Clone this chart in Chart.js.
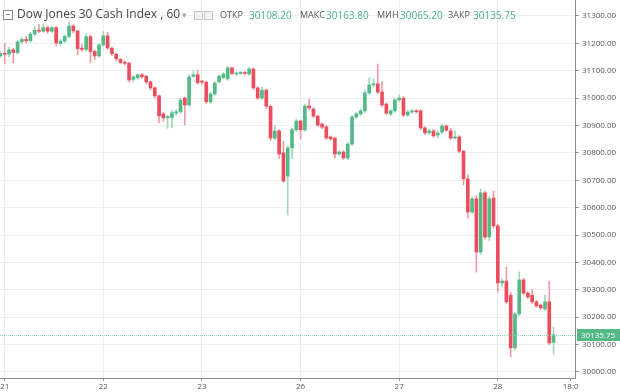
<!DOCTYPE html>
<html>
<head>
<meta charset="utf-8">
<script src="https://cdn.jsdelivr.net/npm/chart.js@4/dist/chart.umd.min.js"></script>
<style>
html,body{margin:0;padding:0;background:#fff;}
#wrap{position:relative;width:620px;height:392px;overflow:hidden;}
#chart{position:absolute;left:0;top:0;}
.h{position:absolute;font-family:"Open Sans",sans-serif;white-space:nowrap;line-height:14px;}
.lbl{font-size:9px;color:#555;top:8px;}
.val{font-size:10px;color:#4cb386;top:8px;}
.box{position:absolute;width:7px;height:7px;border:1px solid #c8c8c8;background:#f2f2f2;top:11px;}
</style>
</head>
<body>
<div id="wrap">
<canvas id="chart" width="620" height="392"></canvas>
<div class="box" style="left:3px;width:8px;height:8px;top:10px;border-color:#888;background:#fff;"><div style="position:absolute;left:2px;top:3px;width:4px;height:1px;background:#888;"></div></div>
<div class="h" style="left:17px;top:7px;font-size:12px;color:#444;">Dow Jones 30 Cash Index , 60</div>
<div class="h" style="left:182px;top:8px;font-size:9px;color:#aaa;">▾</div>
<div class="box" style="left:194px;"></div>
<div class="box" style="left:204px;"></div>
<div class="h lbl" style="left:220px;">ОТКР</div>
<div class="h val" style="left:249px;">30108.20</div>
<div class="h lbl" style="left:300px;">МАКС</div>
<div class="h val" style="left:326px;">30163.80</div>
<div class="h lbl" style="left:377px;">МИН</div>
<div class="h val" style="left:400px;">30065.20</div>
<div class="h lbl" style="left:448px;">ЗАКР</div>
<div class="h val" style="left:473px;">30135.75</div>
</div>
<script>
// hourly candles, Dow Jones 30 Cash Index
const opens = [31154,31163,31160,31176,31166,31205,31214,31209,31234,31248,31244,31257,31244,31257,31199,31208,31225,31263,31245,31182,
31178,31224,31170,31154,31194,31227,31182,31160,31141,31131,31127,31068,31074,31085,31080,31059,31037,31008,30942,30928,
30929,30945,30950,31000,30975,31080,31085,31062,31058,30986,31015,31059,31075,31070,31110,31088,31090,31093,31088,31106,
31037,31000,31029,30970,30854,30880,30800,30715,30818,30884,30916,30884,30971,30960,30934,30905,30895,30858,30854,30796,
30803,30781,30832,30931,30942,30953,31019,31048,31052,31022,30978,30942,30953,30993,31000,30938,30949,30953,30953,30891,
30873,30880,30865,30876,30898,30880,30854,30858,30806,30705,30584,30632,30438,30654,30493,30635,30533,30325,30332,30280,
30088,30212,30336,30288,30280,30256,30244,30230,30256,30108.2];
const highs = [31170,31200,31185,31182,31212,31222,31225,31240,31262,31268,31272,31262,31262,31262,31215,31230,31278,31268,31248,31195,
31235,31230,31175,31200,31243,31240,31186,31165,31145,31136,31132,31082,31088,31090,31083,31062,31042,31012,30948,30938,
30955,30958,31000,31004,31085,31100,31102,31066,31062,31020,31060,31085,31092,31115,31113,31095,31097,31098,31112,31110,
31042,31040,31033,30975,30900,30885,30842,30825,30890,30922,30920,30978,30996,30965,30938,30910,30900,30862,30858,30808,
30808,30838,30936,30948,30960,31030,31073,31070,31124,31060,30983,30958,31000,31012,31005,30955,30960,30958,30958,30896,
30886,30885,30880,30905,30902,30890,30880,30863,30810,30720,30640,30645,30668,30660,30640,30660,30540,30340,30383,30292,
30218,30365,30342,30293,30300,30262,30248,30281,30332,30163.8];
const lows = [31148,31125,31150,31128,31160,31198,31200,31204,31228,31238,31240,31236,31240,31190,31192,31203,31220,31238,31158,31170,
31172,31130,31140,31148,31188,31178,31155,31135,31124,31120,31058,31060,31068,31072,31052,31030,31000,30909,30915,30890,
30892,30938,30943,30902,30970,31075,31050,31050,30980,30980,31010,31055,31070,31065,31085,31082,31086,31085,31083,31030,
30995,30995,30962,30845,30848,30780,30692,30573,30780,30878,30850,30879,30958,30928,30896,30888,30848,30845,30781,30790,
30776,30776,30826,30925,30936,30948,31012,31040,31016,30968,30940,30935,30948,30988,30932,30932,30945,30945,30885,30866,
30868,30856,30855,30870,30878,30848,30850,30800,30683,30562,30578,30365,30430,30485,30480,30525,30292,30310,30250,30055,
30080,30205,30282,30268,30250,30236,30228,30225,30100,30065.2];
const closes = [31163,31160,31176,31166,31205,31214,31209,31234,31248,31244,31257,31244,31257,31201,31208,31225,31263,31245,31180,31178,
31224,31170,31154,31194,31227,31183,31162,31143,31130,31127,31066,31077,31085,31078,31059,31037,31008,30935,30928,30932,
30946,30950,30993,30975,31077,31085,31056,31058,30986,31015,31055,31080,31088,31110,31090,31091,31093,31090,31106,31037,
31000,31029,30970,30854,30880,30796,30697,30818,30884,30916,30884,30971,30964,30934,30901,30894,30854,30851,30796,30803,
30781,30832,30931,30942,30953,31019,31048,31052,31022,30975,30945,30953,30993,31000,30938,30949,30953,30950,30891,30873,
30880,30862,30872,30898,30883,30854,30858,30806,30705,30584,30632,30438,30654,30493,30632,30533,30325,30332,30256,30088,
30212,30336,30288,30274,30256,30241,30234,30256,30106,30135.75];

const dayTicks = [1,24,47,70,93,116,133];
const dayLabels = ['21','22','23','26','27','28','18:0'];
const priceTicks = [30000,30100,30200,30300,30400,30500,30600,30700,30800,30900,31000,31100,31200,31300];

const UP = '#53b987', DOWN = '#eb4d5c';
const UP_WICK = '#9fd8bb', DOWN_WICK = '#f39aa3';

const isUp = i => closes[i] >= opens[i];

Chart.defaults.font.family = '"Open Sans", sans-serif';
Chart.defaults.font.size = 8;
Chart.defaults.color = '#555';

const priceLine = {
    id: 'priceLine',
    afterDatasetsDraw(chart){
        const {ctx, chartArea:a, scales:{y}} = chart;
        const py = Math.round(y.getPixelForValue(closes[closes.length-1])) + 0.5;
        ctx.save();
        ctx.strokeStyle = '#8fd2b0';
        ctx.lineWidth = 1;
        ctx.setLineDash([1,1]);
        ctx.beginPath();
        ctx.moveTo(a.left, py);
        ctx.lineTo(a.right, py);
        ctx.stroke();
        ctx.restore();
    },
    afterDraw(chart){
        const {ctx, chartArea:a, scales:{y}} = chart;
        const last = closes[closes.length-1];
        const py = Math.round(y.getPixelForValue(last));
        ctx.save();
        ctx.fillStyle = UP;
        ctx.fillRect(a.right + 2, py - 6, chart.width - a.right - 2, 12);
        ctx.fillStyle = '#fff';
        ctx.font = '8px "Open Sans", sans-serif';
        ctx.textBaseline = 'middle';
        ctx.fillText(last.toFixed(2), a.right + 6, py + 0.5);
        ctx.restore();
    }
};

new Chart(document.getElementById('chart'), {
    type: 'bar',
    data: {
        datasets: [
            {
                label: 'body',
                order: 0,
                grouped: false,
                barThickness: 3,
                minBarLength: 1,
                data: closes.map((c,i) => ({x:i, y:[opens[i], c]})),
                backgroundColor: closes.map((c,i) => isUp(i) ? UP : DOWN)
            },
            {
                label: 'wick',
                order: 1,
                grouped: false,
                barThickness: 1,
                data: closes.map((c,i) => ({x:i, y:[lows[i], highs[i]]})),
                backgroundColor: closes.map((c,i) => isUp(i) ? UP_WICK : DOWN_WICK)
            }
        ]
    },
    options: {
        responsive: false,
        animation: false,
        devicePixelRatio: 1,
        layout: {padding: 0},
        plugins: {legend: {display: false}, tooltip: {enabled: false}},
        scales: {
            x: {
                type: 'linear',
                min: -0.1,
                max: 134,
                offset: false,
                afterBuildTicks: s => { s.ticks = dayTicks.map(v => ({value: v})); },
                afterFit: s => { s.height = 14; s.paddingLeft = 0; s.paddingRight = 0; },
                ticks: {
                    autoSkip: false, maxRotation: 0, padding: 1,
                    callback: (v, idx) => dayLabels[idx]
                },
                grid: {
                    offset: false,
                    tickLength: 3,
                    color: ctx => ctx.index === dayTicks.length - 1 ? 'rgba(0,0,0,0)' : '#eceff2',
                    tickColor: '#999'
                },
                border: {color: '#8c8c8c'}
            },
            y: {
                position: 'right',
                min: 29978,
                max: 31358,
                beginAtZero: false,
                afterBuildTicks: s => { s.ticks = priceTicks.map(v => ({value: v})); },
                afterFit: s => { s.width = 45; s.paddingTop = 0; s.paddingBottom = 0; },
                ticks: {padding: 3, callback: v => v.toFixed(2)},
                grid: {tickLength: 4, color: '#eceff2', tickColor: '#999'},
                border: {color: '#8c8c8c'}
            }
        }
    },
    plugins: [priceLine]
});
</script>
</body>
</html>
